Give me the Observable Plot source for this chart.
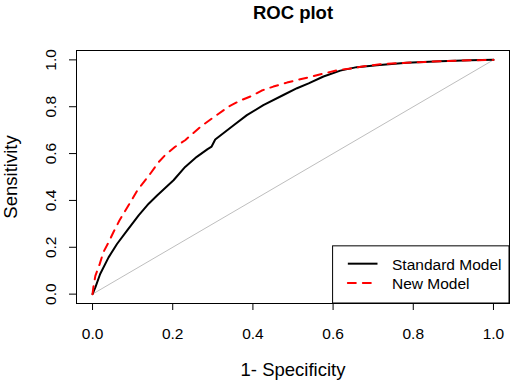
<!DOCTYPE html>
<html>
<head>
<meta charset="utf-8">
<script src="https://cdn.jsdelivr.net/npm/d3@7"></script>
<script src="https://cdn.jsdelivr.net/npm/@observablehq/plot@0.6"></script>
<style>
  html, body { margin: 0; padding: 0; background: #fff; }
  #chart svg { display: block; }
</style>
</head>
<body>
<div id="chart"></div>
<script>
const titleText = "ROC plot";
const xLabel = "1- Specificity";
const yLabel = "Sensitivity";
const xTicks = [0, 0.2, 0.4, 0.6, 0.8, 1.0];
const yTicks = [0, 0.2, 0.4, 0.6, 0.8, 1.0];
const seriesNames = ["Standard Model", "New Model"];

const standardFpr = [0, 0.007, 0.019, 0.040, 0.061, 0.086, 0.115, 0.140, 0.161, 0.202, 0.231, 0.260, 0.287, 0.297, 0.306, 0.352, 0.385, 0.426, 0.476, 0.510, 0.539, 0.576, 0.618, 0.659, 0.709, 0.784, 0.867, 0.942, 1.0];
const standardTpr = [0, 0.029, 0.086, 0.157, 0.214, 0.271, 0.336, 0.386, 0.421, 0.486, 0.543, 0.586, 0.619, 0.630, 0.660, 0.721, 0.764, 0.807, 0.850, 0.879, 0.900, 0.929, 0.954, 0.969, 0.977, 0.988, 0.994, 0.998, 1.0];

const newFpr = [0, 0.002, 0.007, 0.018, 0.027, 0.040, 0.052, 0.067, 0.082, 0.097, 0.112, 0.144, 0.165, 0.181, 0.206, 0.231, 0.269, 0.298, 0.339, 0.368, 0.397, 0.422, 0.451, 0.485, 0.518, 0.547, 0.580, 0.613, 0.647, 0.684, 0.717, 0.784, 0.867, 0.942, 1.0];
const newTpr = [0, 0.029, 0.078, 0.129, 0.179, 0.221, 0.264, 0.314, 0.357, 0.400, 0.443, 0.514, 0.564, 0.593, 0.629, 0.657, 0.714, 0.750, 0.800, 0.826, 0.846, 0.869, 0.886, 0.903, 0.917, 0.929, 0.943, 0.957, 0.964, 0.974, 0.981, 0.988, 0.994, 0.998, 1.0];

const standard = standardFpr.map((x, i) => ({x, y: standardTpr[i]}));
const newer = newFpr.map((x, i) => ({x, y: newTpr[i]}));
const diag = [{x: 0, y: 0}, {x: 1, y: 1}];

// legend placement (data space, bottom-right corner of the plot region)
const legBox = [{x1: 0.600, x2: 1.04, y1: -0.04, y2: 0.204}];
const legLines = [
  {x1: 0.638, x2: 0.712, y: 0.130, name: seriesNames[0]},
  {x1: 0.638, x2: 0.712, y: 0.048, name: seriesNames[1]}
];

const font = "'Liberation Sans', Arial, Helvetica, sans-serif";
const fmt = d3.format(".1f");

const chart = Plot.plot({
  width: 514,
  height: 382,
  marginLeft: 76,
  marginRight: 5,
  marginTop: 50,
  marginBottom: 79,
  style: {background: "#fff", fontFamily: font, fontSize: "15.5px", color: "#000"},
  x: {domain: [-0.04, 1.04]},
  y: {domain: [-0.04, 1.04]},
  marks: [
    Plot.line(diag, {x: "x", y: "y", stroke: "#bebebe", strokeWidth: 1}),
    Plot.line(standard, {x: "x", y: "y", stroke: "#000", strokeWidth: 2, strokeLinejoin: "round", strokeLinecap: "round"}),
    Plot.line(newer, {x: "x", y: "y", stroke: "#ff0000", strokeWidth: 2, strokeDasharray: "8,7", strokeLinecap: "round"}),
    Plot.rect(legBox, {x1: "x1", x2: "x2", y1: "y1", y2: "y2", fill: "#fff", stroke: "#000", strokeWidth: 1}),
    Plot.ruleY([legLines[0]], {x1: "x1", x2: "x2", y: "y", stroke: "#000", strokeWidth: 2}),
    Plot.ruleY([legLines[1]], {x1: "x1", x2: "x2", y: "y", stroke: "#ff0000", strokeWidth: 2, strokeDasharray: "8,7", strokeLinecap: "round"}),
    Plot.text(legLines, {x: 0.747, y: "y", text: "name", textAnchor: "start", fontSize: 15.5, dy: 1, fill: "#000"}),
    Plot.frame({stroke: "#000", strokeWidth: 1}),
    Plot.axisX({ticks: xTicks, tickSize: 7, tickFormat: () => "", label: null}),
    Plot.axisY({ticks: yTicks, tickSize: 7, tickFormat: () => "", label: null}),
    Plot.text(xTicks, {x: d => d, frameAnchor: "bottom", dy: 24, lineAnchor: "top", textAnchor: "middle", text: d => fmt(d), fontSize: 15.5, fill: "#000"}),
    Plot.text(yTicks, {y: d => d, frameAnchor: "left", dx: -21, rotate: -90, lineAnchor: "bottom", textAnchor: "middle", text: d => fmt(d), fontSize: 15.5, fill: "#000"}),
    Plot.text([titleText], {frameAnchor: "top", dy: -32, lineAnchor: "bottom", textAnchor: "middle", fontSize: 18.5, fontWeight: "bold", fill: "#000"}),
    Plot.text([xLabel], {frameAnchor: "bottom", dy: 72, lineAnchor: "bottom", textAnchor: "middle", fontSize: 18.5, fill: "#000"}),
    Plot.text([yLabel], {frameAnchor: "left", dx: -60, rotate: -90, lineAnchor: "bottom", textAnchor: "middle", fontSize: 18.5, fill: "#000"})
  ]
});
document.getElementById("chart").appendChild(chart);
</script>
</body>
</html>
